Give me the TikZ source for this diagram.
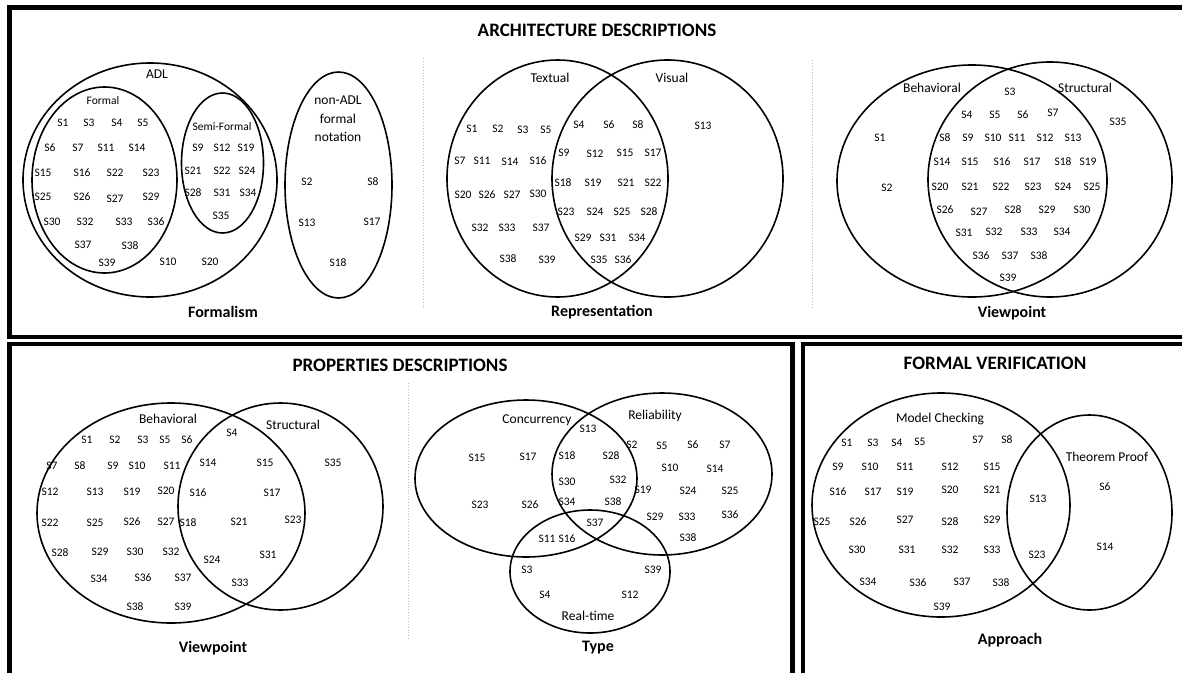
\documentclass[tikz,border=0pt]{standalone}
\usepackage{fontspec}
\setmainfont{Carlito}
\begin{document}
\begin{tikzpicture}[x=1pt,y=-1pt,
  venn/.style={line width=1.6pt},
  frame/.style={line width=4.8pt},
  sep/.style={gray!55, dotted, line width=0.9pt},
  lab/.style={font=\fontsize{11.5}{13}\selectfont, inner sep=0pt},
  setlab/.style={font=\fontsize{13.5}{16}\selectfont, inner sep=0pt},
  smalllab/.style={font=\fontsize{11.5}{13}\selectfont, inner sep=0pt},
  sub/.style={font=\fontsize{16}{18}\selectfont\bfseries, inner sep=0pt},
  ttl/.style={font=\fontsize{19}{21}\selectfont\bfseries, inner sep=0pt}]
\useasboundingbox (0,0) rectangle (1182,672);
\clip (0,0) rectangle (1182,672);
\fill[white] (0,0) rectangle (1182,672);
% frames
\draw[frame] (9.5,7.5) rectangle (1200,337);
\draw[frame] (9.5,344) rectangle (792.5,700);
\draw[frame] (803,344) rectangle (1200,700);
% separators
\coordinate (d1a) at (423,58); \coordinate (d1b) at (423,310);
\coordinate (d2a) at (812,60); \coordinate (d2b) at (812,307);
\coordinate (d3a) at (408,383); \coordinate (d3b) at (408,640);
\draw[sep] (d1a) -- (d1b);
\draw[sep] (d2a) -- (d2b);
\draw[sep] (d3a) -- (d3b);
% titles
\node[ttl] (t1) at (597,30) {ARCHITECTURE DESCRIPTIONS};
\node[ttl] (t2) at (400,365) {PROPERTIES DESCRIPTIONS};
\node[ttl] (t3) at (995,363) {FORMAL VERIFICATION};
% ---------- Formalism ----------
\draw[venn] (150,180) ellipse [x radius=127pt, y radius=117pt];
\draw[venn] (104.5,180) ellipse [x radius=72.5pt, y radius=93pt];
\draw[venn] (222.5,163) ellipse [x radius=41pt, y radius=70pt];
\draw[venn] (338.5,185) ellipse [x radius=53.5pt, y radius=113pt];
\node[setlab] (adl) at (157,74) {ADL};
\node[smalllab] (formal) at (103,101) {Formal};
\node[smalllab] (semi) at (222,127) {Semi-Formal};
\node[setlab, align=center, font=\fontsize{13.5}{18.5}\selectfont] (nonadl) at (338,119) {non-ADL\\formal\\notation};
\node[sub] (formalism) at (223,312) {Formalism};
\foreach \t/\x/\y [count=\i] in {S1/63/123, S3/89/123, S4/117/123, S5/143/123, S6/50/148, S7/78/148, S11/106/148, S14/137/148, S15/43/173, S16/82/173, S22/115/173, S23/151/173, S25/43/197, S26/82/197, S27/115/199, S29/151/197, S30/52/222, S32/85/222, S33/124/222, S36/156/222, S37/83/245, S38/130/246, S39/107/263, S10/168/262, S20/210/262, S9/198/148, S12/222/148, S19/246/148, S21/193/171, S22/222/171, S24/247/171, S28/193/193, S31/222/193, S34/248/193, S35/221/216, S2/307/182, S8/373/182, S13/307/223, S17/372/222, S18/338/263}
  \node[lab] (fa\i) at (\x,\y) {\t};
% ---------- Representation ----------
\draw[venn] (557.5,178.5) ellipse [x radius=110.5pt, y radius=118.5pt];
\draw[venn] (667.5,178.5) ellipse [x radius=115.5pt, y radius=118.5pt];
\node[setlab] (textual) at (550,78) {Textual};
\node[setlab] (visual) at (672,78) {Visual};
\node[sub] (repr) at (602,312) {Representation};
\foreach \t/\x/\y [count=\i] in {S1/472/129, S2/498/129, S3/523/130, S5/546/130, S4/579/125, S6/609/125, S8/638/125, S13/703/126, S7/460/161, S11/482/161, S14/510/162, S16/538/161, S9/564/153, S12/595/154, S15/625/153, S17/653/153, S18/563/183, S19/593/183, S21/626/183, S22/653/183, S20/463/195, S26/487/195, S27/512/195, S30/538/194, S23/566/212, S24/595/212, S25/622/212, S28/649/212, S32/480/228, S33/507/228, S37/541/228, S29/583/238, S31/608/238, S34/637/238, S38/508/259, S39/547/260, S35/599/260, S36/623/260}
  \node[lab] (re\i) at (\x,\y) {\t};
% ---------- Viewpoint (architecture) ----------
\draw[venn] (972,181) ellipse [x radius=135pt, y radius=116pt];
\draw[venn] (1050,179.5) ellipse [x radius=122pt, y radius=117.5pt];
\node[setlab] (beh1) at (932,88) {Behavioral};
\node[setlab] (str1) at (1085,88) {Structural};
\node[sub] (vp1) at (1012,313) {Viewpoint};
\foreach \t/\x/\y [count=\i] in {S3/1010/92, S4/967/115, S5/995/115, S6/1023/115, S7/1053/113, S35/1118/122, S1/880/138, S2/887/188, S8/945/138, S9/968/138, S10/993/138, S11/1017/138, S12/1045/138, S13/1073/138, S14/942/162, S15/970/162, S16/1002/162, S17/1032/162, S18/1063/162, S19/1088/162, S20/940/187, S21/970/187, S22/1001/187, S23/1033/187, S24/1063/187, S25/1092/187, S26/945/210, S27/979/212, S28/1013/210, S29/1047/210, S30/1082/210, S31/964/233, S32/994/232, S33/1029/232, S34/1062/232, S36/981/256, S37/1010/256, S38/1039/256, S39/1008/278}
  \node[lab] (va\i) at (\x,\y) {\t};
% ---------- Viewpoint (properties) ----------
\draw[venn] (171,513) ellipse [x radius=134pt, y radius=110pt];
\draw[venn] (280.5,506.5) ellipse [x radius=102.5pt, y radius=103.5pt];
\node[setlab] (beh2) at (168,419) {Behavioral};
\node[setlab] (str2) at (293,425) {Structural};
\node[sub] (vp2) at (213,648) {Viewpoint};
\foreach \t/\x/\y [count=\i] in {S1/87/440, S2/115/440, S3/143/440, S5/165/440, S6/187/440, S4/232/433, S7/52/466, S8/80/466, S9/113/466, S10/137/466, S11/172/466, S14/208/463, S15/265/463, S35/333/463, S12/50/492, S13/95/492, S19/132/492, S20/166/491, S16/198/493, S17/272/493, S22/50/523, S25/95/523, S26/132/522, S27/166/522, S18/188/523, S21/239/522, S23/293/520, S28/60/553, S29/100/552, S30/135/552, S32/171/552, S24/212/560, S31/268/555, S34/99/579, S36/143/578, S37/183/578, S33/240/583, S38/135/607, S39/183/607}
  \node[lab] (vb\i) at (\x,\y) {\t};
% ---------- Type ----------
\draw[venn] (526,478.5) ellipse [x radius=111pt, y radius=78.5pt];
\draw[venn] (662,474) ellipse [x radius=110pt, y radius=81pt];
\draw[venn] (590,571.5) ellipse [x radius=80pt, y radius=61.5pt];
\node[setlab] (conc) at (537,420) {Concurrency};
\node[setlab] (reli) at (655,416) {Reliability};
\node[setlab] (rt) at (588,616) {Real-time};
\node[sub] (type) at (598,648) {Type};
\foreach \t/\x/\y [count=\i] in {S13/588/429, S15/477/458, S17/528/457, S18/567/456, S28/611/456, S2/632/445, S5/662/446, S6/693/445, S7/725/445, S10/670/468, S14/715/469, S30/567/482, S32/618/480, S19/643/490, S24/688/491, S25/730/491, S23/480/505, S26/530/505, S34/567/502, S38/613/502, S29/655/517, S33/687/517, S36/730/515, S37/595/523, S38/688/538, S11/547/539, S16/567/539, S3/527/570, S39/653/570, S4/545/595, S12/630/595}
  \node[lab] (ty\i) at (\x,\y) {\t};
% ---------- Approach ----------
\draw[venn] (941,505) ellipse [x radius=129pt, y radius=112pt];
\draw[venn] (1089.5,512.5) ellipse [x radius=82.5pt, y radius=97.5pt];
\node[setlab] (mc) at (940,419) {Model Checking};
\node[setlab] (tp) at (1107,457) {Theorem Proof};
\node[sub] (appr) at (1010,640) {Approach};
\foreach \t/\x/\y [count=\i] in {S1/847/443, S3/873/443, S4/897/443, S5/920/442, S7/978/440, S8/1007/440, S9/838/467, S10/870/467, S11/905/467, S12/950/467, S15/992/467, S16/838/492, S17/873/492, S19/905/492, S20/950/490, S21/992/490, S13/1038/499, S6/1105/487, S25/822/522, S26/858/522, S27/905/520, S28/950/522, S29/992/520, S30/857/550, S31/907/550, S32/950/550, S33/992/550, S23/1037/555, S14/1105/547, S34/868/582, S36/918/583, S37/962/582, S38/1001/583, S39/942/607}
  \node[lab] (ap\i) at (\x,\y) {\t};
\end{tikzpicture}
\end{document}
